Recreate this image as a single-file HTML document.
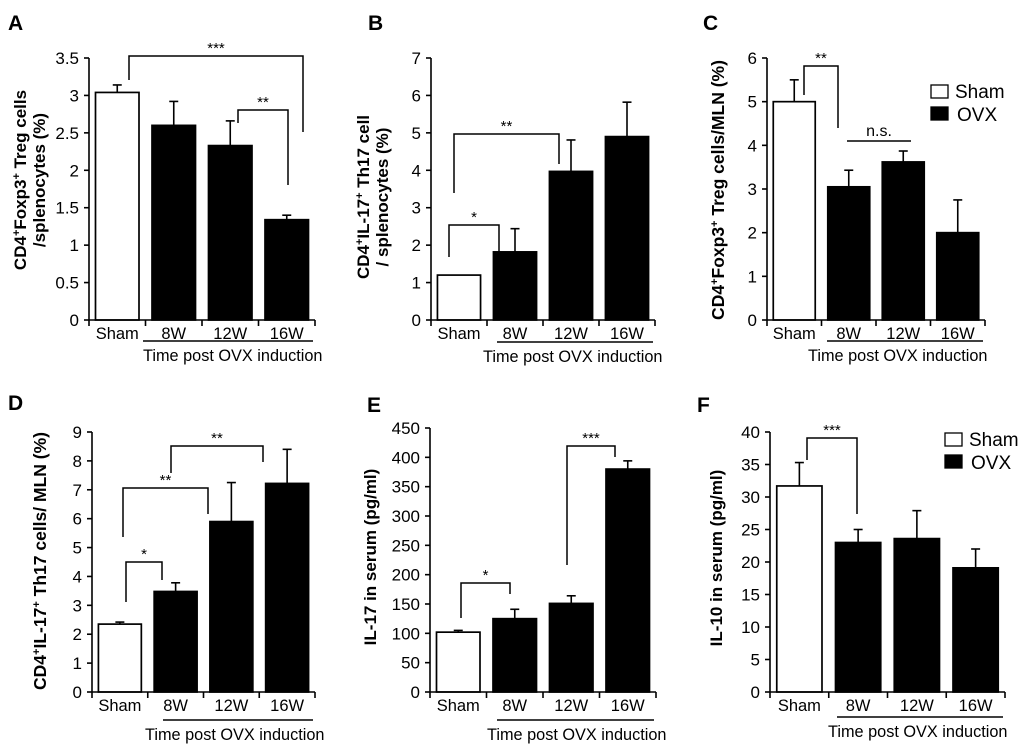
<!DOCTYPE html>
<html><head><meta charset="utf-8"><style>
html,body{margin:0;padding:0;background:#fff;}
svg{display:block;font-family:"Liberation Sans",Arial,sans-serif;}
</style></head><body>
<svg id="fig" width="1020" height="749" viewBox="0 0 1020 749" xmlns="http://www.w3.org/2000/svg"></svg>
<script>
const categories = ["Sham","8W","12W","16W"];
const valuesA = [3.04, 2.6, 2.33, 1.34];
const errorsA = [0.1, 0.32, 0.33, 0.06];
const ticksA = ["0","0.5","1","1.5","2","2.5","3","3.5"];
const valuesB = [1.2, 1.82, 3.97, 4.9];
const errorsB = [0, 0.62, 0.84, 0.92];
const ticksB = ["0","1","2","3","4","5","6","7"];
const valuesC = [5.0, 3.05, 3.62, 2.0];
const errorsC = [0.5, 0.38, 0.25, 0.75];
const ticksC = ["0","1","2","3","4","5","6"];
const valuesD = [2.35, 3.48, 5.9, 7.22];
const errorsD = [0.07, 0.3, 1.35, 1.18];
const ticksD = ["0","1","2","3","4","5","6","7","8","9"];
const valuesE = [102, 125, 151, 380];
const errorsE = [3, 16, 13, 14];
const ticksE = ["0","50","100","150","200","250","300","350","400","450"];
const valuesF = [31.7, 23.0, 23.6, 19.1];
const errorsF = [3.6, 2.0, 4.3, 2.9];
const ticksF = ["0","5","10","15","20","25","30","35","40"];

const NS="http://www.w3.org/2000/svg";
const svg=document.getElementById('fig');
function mk(tag,attrs,parent){const e=document.createElementNS(NS,tag);for(const k in attrs)e.setAttribute(k,attrs[k]);(parent||svg).appendChild(e);return e;}
function txt(s,attrs,parent){const e=mk('text',attrs,parent);e.textContent=s;return e;}

function panel(o){
  const g=mk('g',{});
  
  
  const maxV=parseFloat(o.ticks[o.ticks.length-1]);
  const y=v=>o.y0-(v/maxV)*(o.y0-o.yTop);
  const band=(o.x1-o.x0)/categories.length;
  const xc=i=>o.x0+band*(i+0.5);
  const bw=band*0.77;
  const L=txt(o.id,{x:o.lx,y:o.ly,'font-size':21,'font-weight':'bold'},g);
  
  
  o.values.forEach((v,i)=>{
    const top=y(v);
    const er=y(v+o.errors[i]);
    if(o.errors[i]>0){
      const e1=mk('line',{x1:xc(i),x2:xc(i),y1:top,y2:er,stroke:'#000','stroke-width':1.6},g);
      
      
      mk('line',{x1:xc(i)-4.5,x2:xc(i)+4.5,y1:er,y2:er,stroke:'#000','stroke-width':1.6},g);
    }
    const r=mk('rect',{x:xc(i)-bw/2,y:top,width:bw,height:o.y0-top,fill:i===0?'#fff':'#000',stroke:'#000','stroke-width':1.7},g);
    
    
    const t=txt(categories[i],{x:xc(i),y:o.y0+19,'font-size':16.5,'text-anchor':'middle'},g);
    
    
  });
  const ya=mk('line',{x1:o.x0,x2:o.x0,y1:o.yTop,y2:o.y0,stroke:'#000','stroke-width':1.6},g);
  
  
  const xa=mk('line',{x1:o.x0,x2:o.x1,y1:o.y0,y2:o.y0,stroke:'#000','stroke-width':1.6},g);
  
  
  for(let i=0;i<=categories.length;i++){
    mk('line',{x1:o.x0+band*i,x2:o.x0+band*i,y1:o.y0,y2:o.y0+6,stroke:'#000','stroke-width':1.6},g);
  }
  o.ticks.forEach(t=>{
    const yy=y(parseFloat(t));
    mk('line',{x1:o.x0-5,x2:o.x0,y1:yy,y2:yy,stroke:'#000','stroke-width':1.6},g);
    const tl=txt(t,{x:o.x0-10,y:yy+6,'font-size':17,'text-anchor':'end'},g);
    
    
  });
  const yt=mk('text',{transform:`translate(${o.tx},${o.ty}) rotate(-90)`,'font-size':o.tfs||17,'font-weight':'bold','text-anchor':'middle'},g);
  
  
  o.title.forEach((ln,k)=>{
    const ts=mk('tspan',{x:0,dy:k===0?0:19},yt);
    ln.forEach(p=>{const s=mk('tspan',p[1]?{'baseline-shift':'super','font-size':11}:{},ts);s.textContent=p[0];});
  });
  const ul=mk('line',{x1:o.ux0,x2:o.x1-2,y1:o.uy,y2:o.uy,stroke:'#000','stroke-width':1.5},g);
  
  
  const gl=txt('Time post OVX induction',{x:o.gx,y:o.uy+20,'font-size':16.3},g);
  
  
  (o.brackets||[]).forEach(b=>{
    const p=mk('path',{d:`M${b[0]},${b[1]} V${b[2]} H${b[3]} V${b[4]}`,fill:'none',stroke:'#000','stroke-width':1.5},g);
    
    
    const s=txt(b[5],{x:(b[0]+b[3])/2,y:b[2]-3,'font-size':15,'text-anchor':'middle'},g);
    
    
  });
  if(o.legend){
    const [lx,ly]=o.legend;
    const lg=mk('g',{},g);
    
    
    mk('rect',{x:lx,y:ly,width:17,height:13,fill:'#fff',stroke:'#000','stroke-width':1.3},lg);
    txt('Sham',{x:lx+24,y:ly+13,'font-size':19},lg);
    mk('rect',{x:lx,y:ly+22,width:17,height:13,fill:'#000',stroke:'#000','stroke-width':1.3},lg);
    txt('OVX',{x:lx+26,y:ly+36,'font-size':19},lg);
  }
  return g;
}

panel({id:'A',lx:8,ly:30,x0:89,x1:315,yTop:58,y0:320,values:valuesA,errors:errorsA,ticks:ticksA,
  tx:26,ty:180,title:[[['CD4',0],['+',1],['Foxp3',0],['+',1],[' Treg cells',0]],[['/splenocytes (%)',0]]],
  ux0:143,gx:143,uy:341,
  brackets:[[129,80,56,303,132,'***'],[238,123,110,288,185,'**']]});
panel({id:'B',lx:368,ly:30,x0:431,x1:655,yTop:58,y0:320,values:valuesB,errors:errorsB,ticks:ticksB,
  tx:369,ty:197,title:[[['CD4',0],['+',1],['IL-17',0],['+',1],[' Th17 cell',0]],[['/ splenocytes (%)',0]]],
  ux0:497,gx:483,uy:342,
  brackets:[[449,257,225,499,252,'*'],[454,193,134,559,164,'**']]});
panel({id:'C',lx:703,ly:30,x0:767,x1:985,yTop:58,y0:320,values:valuesC,errors:errorsC,ticks:ticksC,
  tx:724,ty:190,tfs:17.5,title:[[['CD4',0],['+',1],['Foxp3',0],['+',1],[' Treg cells/MLN (%)',0]]],
  ux0:827,gx:808,uy:341,legend:[931,85],
  brackets:[[804,95,66,838,128,'**']]});
panel({id:'D',lx:8,ly:410,x0:92,x1:315,yTop:432,y0:692,values:valuesD,errors:errorsD,ticks:ticksD,
  tx:46,ty:561,tfs:17.5,title:[[['CD4',0],['+',1],['IL-17',0],['+',1],[' Th17 cells/ MLN (%)',0]]],
  ux0:163,gx:145,uy:720,
  brackets:[[126,602,562,162,580,'*'],[123,537,488,208,514,'**'],[171,473,446,263,462,'**']]});
panel({id:'E',lx:367,ly:412,x0:430,x1:656,yTop:428,y0:692,values:valuesE,errors:errorsE,ticks:ticksE,
  tx:376,ty:557,title:[[['IL-17 in serum (pg/ml)',0]]],
  ux0:497,gx:487,uy:720,
  brackets:[[461,618,583,510,594,'*'],[567,565,446,615,457,'***']]});
panel({id:'F',lx:697,ly:412,x0:770,x1:1005,yTop:432,y0:692,values:valuesF,errors:errorsF,ticks:ticksF,
  tx:722,ty:558,title:[[['IL-10 in serum (pg/ml)',0]]],
  ux0:837,gx:828,uy:717,legend:[945,433],
  brackets:[[807,460,438,857,514,'***']]});
const ns=mk('line',{x1:847,x2:911,y1:141,y2:141,stroke:'#000','stroke-width':1.5});


const nst=txt('n.s.',{x:879,y:136,'font-size':16,'text-anchor':'middle'});


</script>
</body></html>
